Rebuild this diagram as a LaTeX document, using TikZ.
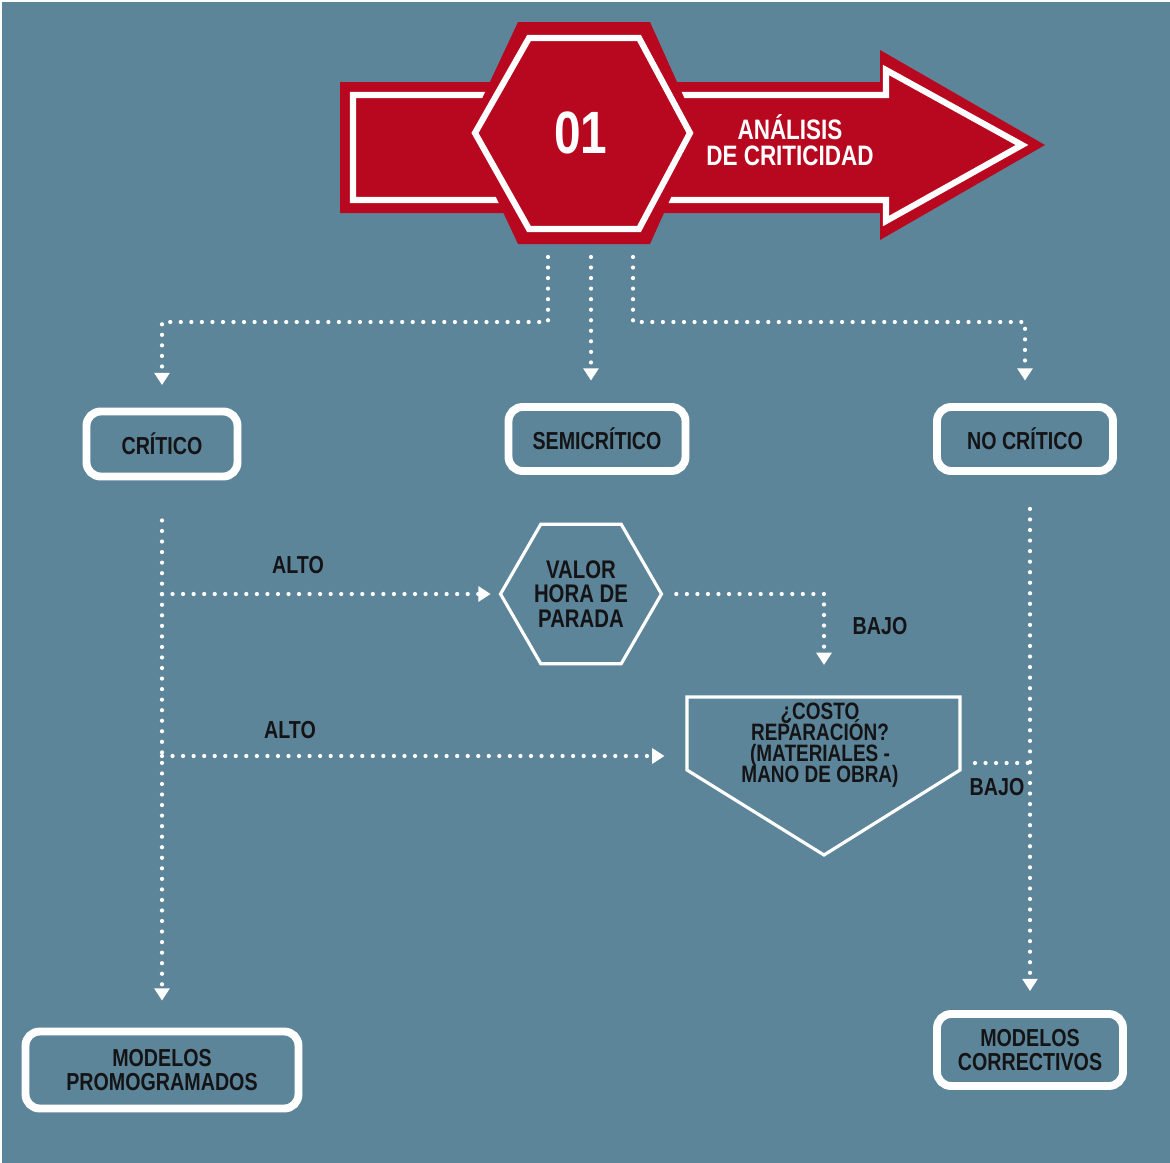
\documentclass[tikz,border=0pt]{standalone}
\usepackage{fontspec}
\newfontfamily\cf[FakeStretch=0.8]{Liberation Sans}
\usetikzlibrary{arrows.meta,shapes.geometric,calc}
\definecolor{bg}{RGB}{93,133,154}
\definecolor{banner}{RGB}{183,8,31}
\definecolor{ink}{RGB}{20,20,22}
% keep multi-line labels on a fixed baseline grid, even with accents
\lineskiplimit=-20pt

\begin{document}
\begin{tikzpicture}[x=0.02cm,y=-0.02cm,
  txt/.style={font=\cf\bfseries\fontsize{14}{13.6}\selectfont, text=ink, align=center},
  box/.style={txt, draw=white, line width=4.5pt, rounded corners=8pt, inner sep=0pt},
  lab/.style={txt},
  dotline/.style={draw=white, line width=2.4pt, line cap=round, dash pattern=on 0pt off 6pt},
  conn/.style={dotline, -{Triangle[width=8.5pt,length=7pt]}, shorten >=0.45cm},
  outline/.style={draw=white, line width=1.8pt, line join=miter}]

% canvas
\useasboundingbox (0,0) rectangle (1170,1163);
\fill[white] (0,0) rectangle (1170,1163);
\fill[bg] (2,2) rectangle (1170,1163);

% red banner arrow with its white inner outline
\fill[banner] (340,82) -- (880,82) -- (880,50) -- (1045,145) -- (880,240) -- (880,213) -- (340,213) -- cycle;
\draw[white, line width=3.5pt, line join=miter] (353,95) -- (886,95) -- (886,70) -- (1022,145) -- (886,221) -- (886,200) -- (353,200) -- cycle;
% hexagon badge
\fill[banner] (518,22) -- (650,22) -- (700,133) -- (650,244) -- (518,244) -- (466,133) -- cycle;
\draw[white, line width=3.5pt, line join=miter] (529,38) -- (639,38) -- (690,133) -- (639,229) -- (529,229) -- (475,133) -- cycle;
\node[text=white, font=\cf\bfseries\fontsize{34}{34}\selectfont] (num) at (581,133) {01};
\node[text=white, font=\cf\bfseries\fontsize{16}{14.7}\selectfont, align=center] (title) at (790,140) {ANÁLISIS\\DE CRITICIDAD};

% outgoing points under the banner
\coordinate (s1) at (548,257);
\coordinate (s2) at (591,257);
\coordinate (s3) at (633,257);

% category boxes
\node[box, minimum width=3.02cm, minimum height=1.3cm] (crit) at (162,444) {CRÍTICO};
\node[box, minimum width=3.54cm, minimum height=1.28cm] (semi) at (597,439) {SEMICRÍTICO};
\node[box, minimum width=3.52cm, minimum height=1.28cm] (nocrit) at (1025,439) {NO CRÍTICO};

% outcome boxes
\node[box, minimum width=5.46cm, minimum height=1.54cm] (modprog) at (162,1070) {MODELOS\\PROMOGRAMADOS};
\node[box, minimum width=3.72cm, minimum height=1.44cm] (modcorr) at (1030,1050) {MODELOS\\CORRECTIVOS};

% decision: downtime value
\node[txt, regular polygon, regular polygon sides=6, outline, minimum size=3.22cm, inner sep=0pt,
      font=\cf\bfseries\fontsize{14.5}{13.9}\selectfont] (valor) at (581,594) {VALOR\\HORA DE\\PARADA};

% decision: repair cost (pentagon pointing down)
\draw[outline] (687,697) -- (960,697) -- (960,770) -- (824,855) -- (687,770) -- cycle;
\coordinate (pentop) at (824,697);
\coordinate (pl) at (687,756);
\coordinate (pr) at (960,763);
\node[txt, font=\cf\bfseries\fontsize{13.5}{12}\selectfont] (costo) at (820,745) {¿COSTO\\REPARACIÓN?\\(MATERIALES -\\MANO DE OBRA)};

% connectors from the banner
\draw[conn] (s1) -- ++(0,65) -| (crit);
\draw[conn] (s2) -- (s2 |- semi.north);
\draw[conn] (s3) -- ++(0,65) -| (nocrit);

% critical branch
\draw[conn, shorten <=0.8cm, shorten >=0.54cm] (crit) -- (modprog);
\draw[conn, shorten >=0.16cm] (crit.south |- valor.west) -- (valor.west);
\draw[conn] (crit.south |- pl) -- (pl);
\draw[conn, shorten <=0.26cm, shorten >=0.64cm] (valor.east) -| (pentop);

% non-critical branch
\draw[conn, shorten <=0.68cm, shorten >=0.38cm] (modcorr.north |- nocrit.south) -- (modcorr.north);
\draw[dotline, shorten <=0.3cm] (pr) -- (modcorr.north |- pr);

% branch labels
\node[lab] (alto1) at (298,565) {ALTO};
\node[lab] (alto2) at (290,730) {ALTO};
\node[lab] (bajo1) at (880,626) {BAJO};
\node[lab] (bajo2) at (997,787) {BAJO};
\end{tikzpicture}
\end{document}
